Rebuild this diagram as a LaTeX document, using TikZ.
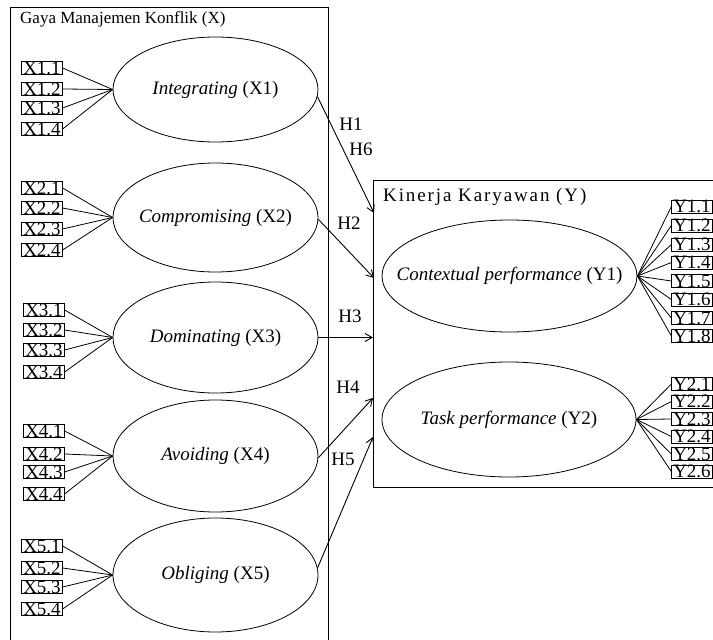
\documentclass[tikz,border=0pt]{standalone}
\usepackage{fontspec}
\setmainfont{Liberation Serif}
\newfontfamily\spacedfont[LetterSpace=10]{Liberation Serif}
\usetikzlibrary{shapes.geometric,arrows.meta}
\begin{document}
\begin{tikzpicture}[x=1pt,y=-1pt,
  every node/.style={font=\fontsize{19}{22}\selectfont},
  ind/.style={draw, line width=0.8pt, inner xsep=1.5pt, inner ysep=0.4pt, text height=12.2pt, text depth=0pt},
  lat/.style={draw, ellipse, line width=0.8pt, inner sep=0pt},
  conn/.style={line width=0.8pt},
  frame/.style={line width=0.9pt},
  arr/.style={line width=0.9pt, -{Straight Barb[length=7pt,width=8pt]}},
  hlab/.style={inner sep=0pt}
]
\useasboundingbox (0,0) rectangle (713,640);
\clip (0,0) rectangle (713,640);

% container frames
\draw[frame] (10,7) rectangle (328,660);
\draw[frame] (373,180) rectangle (760,487);
\node[anchor=base west, inner sep=0pt, font=\fontsize{17}{20}\selectfont] (tx) at (20,23) {Gaya Manajemen Konflik (X)};
\node[anchor=base west, inner sep=0pt] (ty) at (383,201) {\spacedfont Kinerja Karyawan (Y)};

% latent variables X
\node[lat, minimum width=205pt, minimum height=105pt] (x1) at (215.5,89.5) {\makebox[0pt]{\textit{Integrating} (X1)}};
\node[lat, minimum width=205pt, minimum height=109pt] (x2) at (215.5,217.5) {\makebox[0pt]{\textit{Compromising} (X2)}};
\node[lat, minimum width=205pt, minimum height=111pt] (x3) at (215.5,337.5) {\makebox[0pt]{\textit{Dominating} (X3)}};
\node[lat, minimum width=205pt, minimum height=112pt] (x4) at (215.5,456) {\makebox[0pt]{\textit{Avoiding} (X4)}};
\node[lat, minimum width=205pt, minimum height=114pt] (x5) at (215.5,575) {\makebox[0pt]{\textit{Obliging} (X5)}};

% latent variables Y
\node[lat, minimum width=255pt, minimum height=112pt] (y1) at (509.5,276) {\makebox[0pt]{\textit{Contextual performance} (Y1)}};
\node[lat, minimum width=254pt, minimum height=115pt] (y2) at (509,419.5) {\makebox[0pt]{\textit{Task performance} (Y2)}};

% indicators X
\foreach \i/\yy in {1/68,2/89,3/108,4/129}{
  \node[ind] (x1i\i) at (42,\yy) {X1.\i};
  \draw[conn] (x1i\i.east) -- (x1.west);
}
\foreach \i/\yy in {1/188,2/208,3/229,4/250}{
  \node[ind] (x2i\i) at (42,\yy) {X2.\i};
  \draw[conn] (x2i\i.east) -- (x2.west);
}
\foreach \i/\yy in {1/310,2/330,3/350,4/372}{
  \node[ind] (x3i\i) at (44,\yy) {X3.\i};
  \draw[conn] (x3i\i.east) -- (x3.west);
}
\foreach \i/\yy in {1/431,2/454,3/472,4/494}{
  \node[ind] (x4i\i) at (44,\yy) {X4.\i};
  \draw[conn] (x4i\i.east) -- (x4.west);
}
\foreach \i/\yy in {1/546,2/568,3/587,4/609}{
  \node[ind] (x5i\i) at (42,\yy) {X5.\i};
  \draw[conn] (x5i\i.east) -- (x5.west);
}

% indicators Y
\foreach \i/\yy in {1/206.5,2/225.5,3/244.5,4/262.5,5/281,6/299.5,7/318,8/336}{
  \node[ind] (y1i\i) at (692,\yy) {Y1.\i};
  \draw[conn] (y1.east) -- (y1i\i.west);
}
\foreach \i/\yy in {1/384,2/401.5,3/419,4/436.5,5/454,6/471.5}{
  \node[ind] (y2i\i) at (692,\yy) {Y2.\i};
  \draw[conn] (y2.east) -- (y2i\i.west);
}

% structural paths
\coordinate (e1) at (374,213);
\coordinate (e2) at (374,278);
\coordinate (e3) at (373,337.5);
\coordinate (e4) at (373,398);
\coordinate (e5) at (373,437);
\draw[arr] (x1.-4) -- (e1);
\draw[arr] (x2.-1) -- (e2);
\draw[arr] (x3.east) -- (e3);
\draw[arr] (x4.-1) -- (e4);
\draw[arr] (x5.4) -- (e5);

\node[hlab] (h1) at (351,124) {H1};
\node[hlab] (h6) at (361,149) {H6};
\node[hlab] (h2) at (349,223) {H2};
\node[hlab] (h3) at (350,316) {H3};
\node[hlab] (h4) at (348,387) {H4};
\node[hlab] (h5) at (343,459) {H5};
\end{tikzpicture}
\end{document}
